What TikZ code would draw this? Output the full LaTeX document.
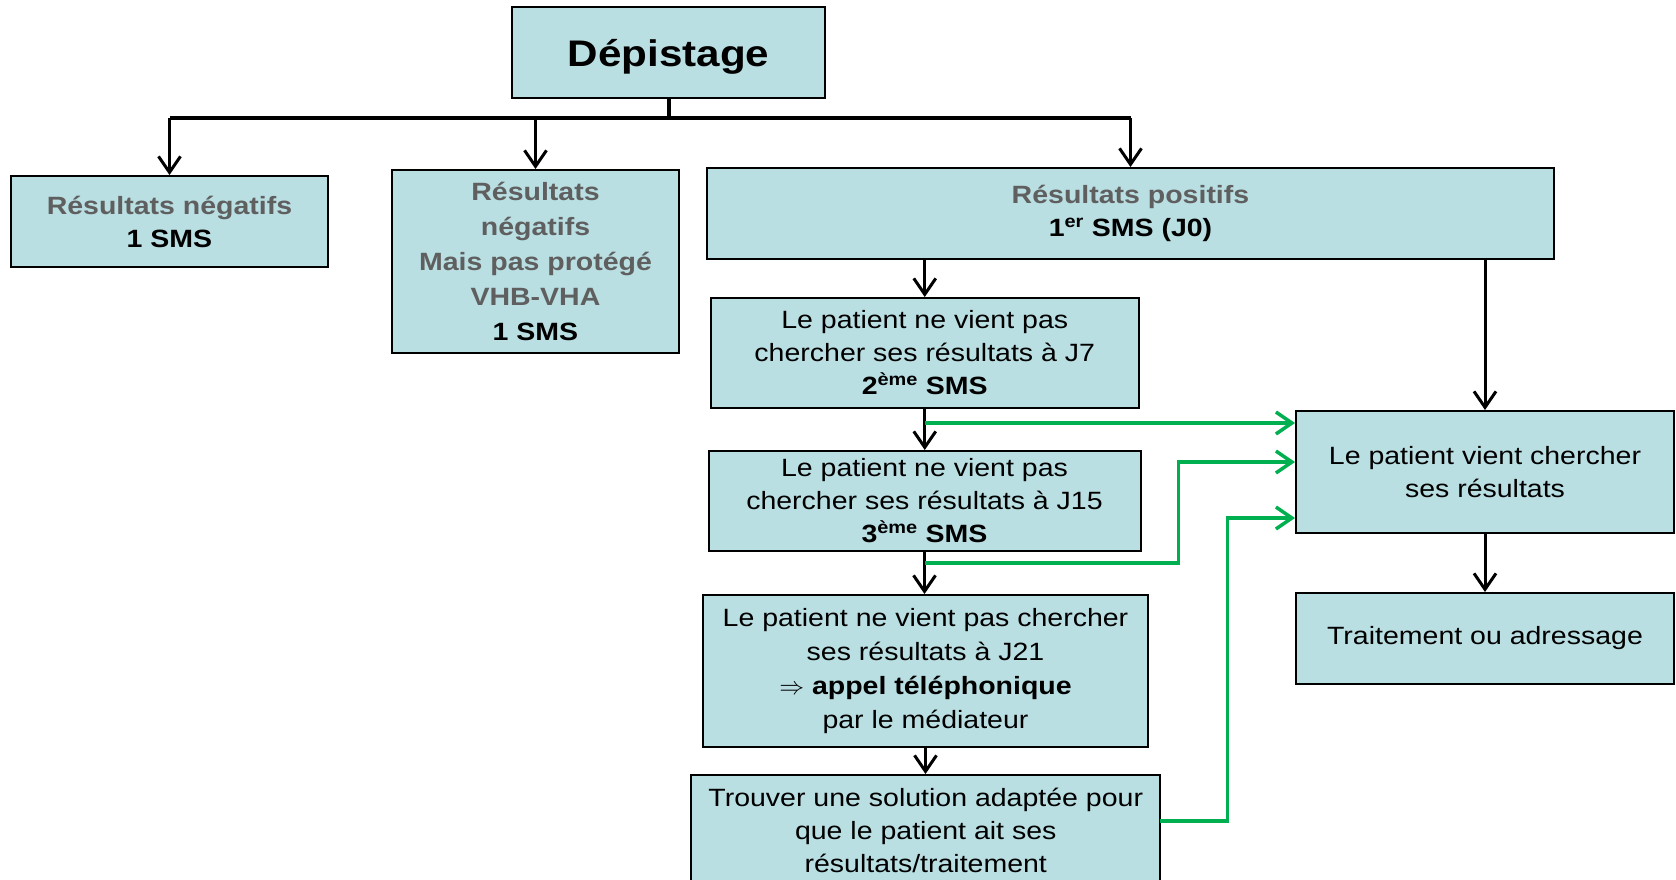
\documentclass[tikz,border=0pt]{standalone}
\usepackage{fontspec}
\setmainfont[FakeStretch=1.14]{Liberation Sans}
\usetikzlibrary{arrows.meta,calc}
\definecolor{boxfill}{HTML}{B9DFE3}
\definecolor{graytxt}{HTML}{5F5F5F}
\definecolor{grn}{HTML}{00B050}
\begin{document}
\begin{tikzpicture}[x=1pt,y=-1pt,
 box/.style={draw=black,line width=2pt,fill=boxfill,inner sep=0pt,align=center,font=\fontsize{25}{33}\selectfont},
 arr/.style={draw=black,line width=3pt,-{Straight Barb[length=16pt,width=22pt]}},
 garr/.style={draw=grn,line width=3.5pt,-{Straight Barb[length=16pt,width=22pt]}},
 busline/.style={draw=black,line width=4pt}
]
\useasboundingbox (0,0) rectangle (1676,879);
\node[box,minimum width=313pt,minimum height=91pt,text depth=0pt,font=\fontsize{37}{40}\selectfont\bfseries] (dep) at (668.5,52.5) {Dépistage};
\node[box,minimum width=317pt,minimum height=91pt] (neg1) at (169.5,221.5)
 {\textbf{\textcolor{graytxt}{Résultats négatifs}}\\\textbf{1 SMS}};
\node[box,minimum width=287pt,minimum height=183pt,font=\fontsize{25}{35}\selectfont] (neg2) at (535.5,261.5)
 {\textbf{\textcolor{graytxt}{Résultats}}\\\textbf{\textcolor{graytxt}{négatifs}}\\\textbf{\textcolor{graytxt}{Mais pas protégé}}\\\textbf{\textcolor{graytxt}{VHB-VHA}}\\\textbf{1 SMS}};
\node[box,minimum width=847pt,minimum height=91pt] (pos) at (1130.5,213.5)
 {\textbf{\textcolor{graytxt}{Résultats positifs}}\\\textbf{1\textsuperscript{er} SMS (J0)}};
\node[box,minimum width=428pt,minimum height=110pt] (j7) at (924.75,353)
 {Le patient ne vient pas\\chercher ses résultats à J7\\\textbf{2\textsuperscript{ème} SMS}};
\node[box,minimum width=432pt,minimum height=100pt] (j15) at (924.5,501)
 {Le patient ne vient pas\\chercher ses résultats à J15\\\textbf{3\textsuperscript{ème} SMS}};
\node[box,minimum width=445pt,minimum height=152pt,font=\fontsize{25}{34}\selectfont] (j21) at (925.5,671)
 {Le patient ne vient pas chercher\\ses résultats à J21\\$\Rightarrow$ \textbf{appel téléphonique}\\par le médiateur};
\node[box,minimum width=469pt,minimum height=110pt] (trouver) at (925.75,830)
 {Trouver une solution adaptée pour\\que le patient ait ses\\résultats/traitement};
\node[box,minimum width=378pt,minimum height=122pt] (vient) at (1485,472)
 {Le patient vient chercher\\ses résultats};
\node[box,minimum width=378pt,minimum height=91pt] (trait) at (1485,638.5)
 {Traitement ou adressage};
% tree from Dépistage
\coordinate (bus) at (668.5,118);
\draw[busline] (dep.south) -- (bus);
\draw[busline] (neg1.north |- bus) -- (pos.north |- bus);
\draw[arr] (neg1.north |- bus) -- (neg1.north);
\draw[arr] (neg2.north |- bus) -- (neg2.north);
\draw[arr] (pos.north |- bus) -- (pos.north);
% vertical chain
\draw[arr] (pos.south -| j7.north) -- (j7.north);
\draw[arr] (pos.south -| vient.north) -- (vient.north);
\draw[arr] (j7.south) -- (j7.south |- j15.north);
\draw[arr] (j15.south) -- (j15.south |- j21.north);
\draw[arr] (j21.south) -- (j21.south |- trouver.north);
\draw[arr] (vient.south) -- (trait.north);
% green connectors
\coordinate (g1s) at (924.75,423);
\coordinate (g2s) at (924.5,563);
\coordinate (g2m) at (1178.7,462);
\coordinate (g3s) at (1160.3,821);
\coordinate (g3m) at (1227.6,518);
\draw[garr] (g1s) -- (g1s -| vient.west);
\draw[garr] (g2s) -| (g2m) -- (g2m -| vient.west);
\draw[garr] (g3s) -| (g3m) -- (g3m -| vient.west);
\end{tikzpicture}
\end{document}
